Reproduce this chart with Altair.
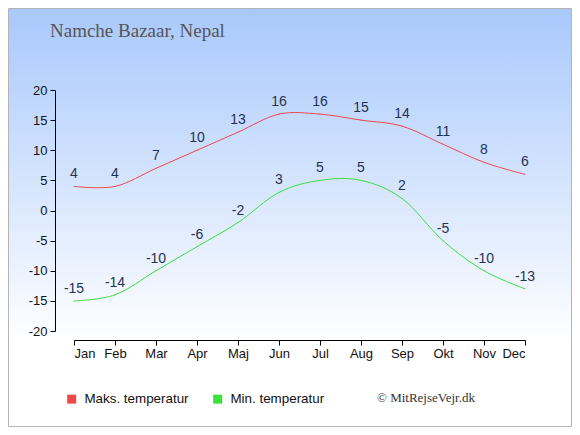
import altair as alt
import pandas as pd

months = ["Jan", "Feb", "Mar", "Apr", "Maj", "Jun", "Jul", "Aug", "Sep", "Okt", "Nov", "Dec"]
max_temp = [4, 4, 7, 10, 13, 16, 16, 15, 14, 11, 8, 6]
min_temp = [-15, -14, -10, -6, -2, 3, 5, 5, 2, -5, -10, -13]
series_names = ["Maks. temperatur", "Min. temperatur"]
series_colors = ["#f04848", "#3ddf3d"]
title_text = "Namche Bazaar, Nepal"
credit_text = "© MitRejseVejr.dk"

rows = []
for i, m in enumerate(months):
    rows.append({"idx": i, "month": m, "temp": max_temp[i], "lbl": str(max_temp[i]), "series": series_names[0]})
    rows.append({"idx": i, "month": m, "temp": min_temp[i], "lbl": str(min_temp[i]), "series": series_names[1]})
df = pd.DataFrame(rows)

W, H = 451, 241
PL, PT, PR, PB = 66, 82, 47, 96

label_expr = "[" + ",".join("'%s'" % m for m in months) + "][datum.value]"

x_enc = alt.X(
    "idx:Q",
    scale=alt.Scale(domain=[0, 11], nice=False, zero=False),
    axis=alt.Axis(values=list(range(12)), labelExpr=label_expr, title=None, grid=False,
                  offset=9, tickSize=5, labelPadding=2, domainColor="#000", tickColor="#000",
                  labelColor="#111", labelFont="Liberation Sans", labelFontSize=13, zindex=2,
                  labelOverlap=False),
)
y_enc = alt.Y(
    "temp:Q",
    scale=alt.Scale(domain=[-20, 20], nice=False, zero=False),
    axis=alt.Axis(values=list(range(-20, 21, 5)), title=None, grid=False, offset=19,
                  tickSize=5, labelPadding=3, domainColor="#000", tickColor="#000",
                  labelColor="#111", labelFont="Liberation Sans", labelFontSize=13, zindex=2,
                  labelOverlap=False, labelFlush=False,
                  labelExpr="replace(datum.label, '\u2212', '-')"),
)

color_scale = alt.Scale(domain=series_names, range=series_colors)
leg = alt.Legend(
    orient="none", legendX=-9, legendY=302, direction="horizontal", title=None,
    symbolType="square", symbolSize=81, symbolStrokeWidth=0, symbolOpacity=1,
    labelFont="Liberation Sans", labelFontSize=13.4, labelColor="#111",
    columnPadding=22, labelOffset=6, padding=0, zindex=2,
)

bg = alt.Chart(pd.DataFrame({"a": [0]})).mark_rect(
    color=alt.Gradient(gradient="linear", x1=0, x2=0, y1=0, y2=1,
                       stops=[alt.GradientStop(color="#a8c8fc", offset=0),
                              alt.GradientStop(color="#ffffff", offset=0.8),
                              alt.GradientStop(color="#ffffff", offset=1)]),
    stroke="#b4b4b4", strokeWidth=1,
).encode(x=alt.value(-PL + 0.5), x2=alt.value(W + PR - 0.5),
         y=alt.value(-PT + 0.5), y2=alt.value(H + PB - 0.5))

legend_pts = alt.Chart(df).mark_square(size=1, filled=True).encode(
    x=x_enc, y=y_enc,
    color=alt.Color("series:N", scale=color_scale, legend=leg),
)

lines = alt.Chart(df).mark_line(interpolate="cardinal", strokeWidth=1).encode(
    x=x_enc, y=y_enc,
    color=alt.Color("series:N", scale=color_scale, legend=leg),
)

labels = alt.Chart(df).mark_text(
    dy=-8, baseline="alphabetic", align="center", font="Liberation Sans", fontSize=14, color="#1f3354"
).encode(x=x_enc, y=y_enc, text="lbl:N")

title = alt.Chart(pd.DataFrame({"t": [title_text]})).mark_text(
    align="left", baseline="alphabetic", font="Liberation Serif", fontSize=19, color="#555555"
).encode(x=alt.value(-24), y=alt.value(-53), text="t:N")

credit = alt.Chart(pd.DataFrame({"t": [credit_text]})).mark_text(
    align="left", baseline="alphabetic", font="Liberation Serif", fontSize=13, color="#333333"
).encode(x=alt.value(303), y=alt.value(312), text="t:N")

chart = alt.layer(bg, legend_pts, lines, labels, title, credit).properties(
    width=W, height=H,
    autosize=alt.AutoSizeParams(type="none"),
    padding={"left": PL, "top": PT, "right": PR, "bottom": PB},
    background="#ffffff",
).configure_view(stroke=None)

chart.save("out.html", embed_options={"renderer": "svg", "actions": False})
